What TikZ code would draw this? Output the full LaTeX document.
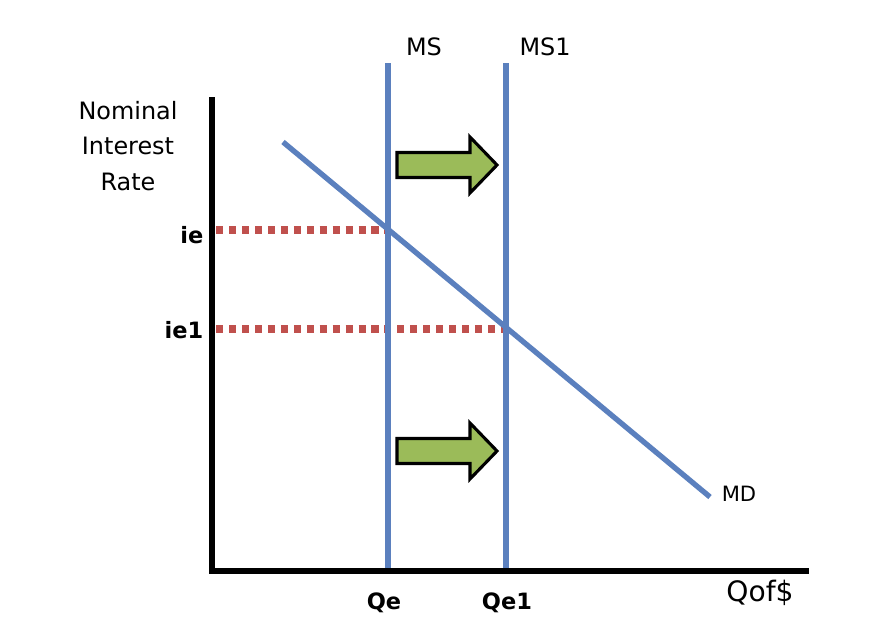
\documentclass[tikz,border=0pt]{standalone}
\usepackage{fontspec}
\setmainfont{DejaVu Sans}
\definecolor{lineblue}{HTML}{5B80BE}
\definecolor{dotred}{HTML}{C0504D}
\definecolor{shiftgreen}{HTML}{9BBB59}
\tikzstyle{every node}=[font={\fontsize{17}{21}\selectfont}, inner sep=1pt]
\tikzstyle{axis}=[line width=4.3pt, black]
\tikzstyle{curve}=[line width=3.8pt, lineblue]
\tikzstyle{guide}=[line width=5pt, dotred, dash pattern=on 5pt off 4.2pt]
\tikzstyle{tick}=[font={\fontsize{16}{20}\selectfont\bfseries}]
\tikzstyle{shiftarrow}=[draw=black, line width=2.2pt, fill=shiftgreen, line join=miter]

\begin{document}
\begin{tikzpicture}[x=0.025cm, y=-0.025cm]
    \useasboundingbox (0,0) rectangle (891,621);
    % axes
    \coordinate (origin) at (212,571);
    \coordinate (ytop) at (212,97);
    \coordinate (xend) at (809,571);
    \draw [axis] (ytop) -- (origin) -- (xend);
    % money supply and demand
    \coordinate (ms top) at (388,63);
    \coordinate (ms bot) at (388,568);
    \coordinate (ms1 top) at (506,63);
    \coordinate (ms1 bot) at (506,568);
    \coordinate (md top) at (283,142);
    \coordinate (md bot) at (710,497);
    \coordinate (eq) at (388,230);
    \coordinate (eq1) at (506,329);
    \draw [guide] ([xshift=3pt]origin |- eq) -- (eq);
    \draw [guide] ([xshift=3pt]origin |- eq1) -- (eq1);
    \draw [curve] (ms top) -- (ms bot);
    \draw [curve] (ms1 top) -- (ms1 bot);
    \draw [curve] (md top) -- (md bot);
    % shift arrows
    \foreach \ay/\an in {165/upper, 451/lower} {
        \draw [shiftarrow] (397,\ay-12.5) -- (470,\ay-12.5) -- (470,\ay-28) -- (497,\ay)
            -- (470,\ay+28) -- (470,\ay+12.5) -- (397,\ay+12.5) -- cycle;
    }
    % labels
    \node (ms) at (424,47) {MS};
    \node (ms1) at (545,47) {MS1};
    \node [font={\fontsize{15}{18}\selectfont}] (md) at (739,494) {MD};
    \node [font={\fontsize{20}{24}\selectfont}] (qof) at (760,593) {Qof\$};
    \node [align=center, font={\fontsize{17}{25.5}\selectfont}] (yname) at (128,146) {Nominal\\Interest\\Rate};
    \node [tick, anchor=east] (ie) at (205,235) {ie};
    \node [tick, anchor=east] (ie1) at (205,330) {ie1};
    \node [tick] (qe) at (384,603) {Qe};
    \node [tick] (qe1) at (507,603) {Qe1};
\end{tikzpicture}
\end{document}
